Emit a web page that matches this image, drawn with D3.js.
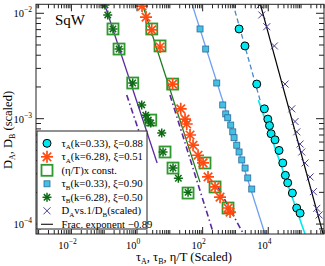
<!DOCTYPE html>
<html>
<head>
<meta charset="utf-8">
<script src="https://cdn.jsdelivr.net/npm/d3@7"></script>
<style>
body { margin: 0; background: #fff; }
svg text { font-family: "Liberation Serif", "Times New Roman", serif; fill: #000; }
</style>
</head>
<body>
<div id="main"></div>
<script>
// ---- data ----
var tauA033 = [[1290,7.1e-3],[1950,4.9e-3],[4460,2.13e-3],[7600,1.24e-3],[9700,9.9e-4],[10900,8.6e-4],[12200,7.2e-4],[16100,6.3e-4],[21300,5.0e-4],[27700,3.8e-4],[33200,2.9e-4],[39100,2.46e-4],[54300,1.97e-4],[73600,1.42e-4],[93400,1.27e-4]];
var tauA628 = [[1.42,1.17e-2],[1.88,9.2e-3],[2.81,6.95e-3],[5.02,4.79e-3],[12.2,2.13e-3],[21.5,1.24e-3],[29.1,9.9e-4],[32.7,8.9e-4],[41.3,7.0e-4],[51,5.6e-4],[72.4,4.5e-4],[103,3.8e-4],[146,2.8e-4],[239,2.25e-4],[339,1.8e-4],[594,1.42e-4],[684,1.3e-4]];
var etaT1 = [[0.185,7.1e-3],[0.283,4.58e-3],[0.74,2.18e-3],[2.62,9.7e-4],[7.14,4.83e-4],[12.5,3.4e-4],[35.9,1.97e-4]];
var etaT2 = [[2.81,7.1e-3],[5.02,4.9e-3],[12.2,2.13e-3],[118,3.8e-4],[239,2.25e-4],[594,1.42e-4]];
var tauB033 = [[83.3,7.1e-3],[124,4.58e-3],[269,2.18e-3],[410,1.35e-3],[506,1.11e-3],[582,1.02e-3],[719,8.7e-4],[828,7.5e-4],[906,6.6e-4],[1096,5.6e-4],[1288,4.83e-4],[1556,4.06e-4],[1963,3.4e-4],[2372,2.74e-4],[3140,2.15e-4]];
var tauB628 = [[0.1057,1.2e-2],[0.128,9.64e-3],[0.185,7.1e-3],[0.283,4.58e-3],[0.74,2.18e-3],[1.39,1.35e-3],[1.84,1.08e-3],[2.21,9.7e-4],[2.62,9.1e-4],[5.66,7.3e-4],[6.2,4.83e-4],[12.5,3.4e-4],[18.2,2.72e-4],[35.9,2.0e-4]];
var dAvsDB = [[5623,1.2e-2],[6340,9.64e-3],[9000,7.46e-3],[15350,4.9e-3],[32500,2.13e-3],[52000,1.24e-3],[65600,9.4e-4],[74000,7.5e-4],[93300,5.75e-4],[105000,4.83e-4],[132000,3.8e-4],[188000,2.8e-4],[237000,2.03e-4],[301000,1.41e-4],[355000,1.22e-4]];

// fit lines, end points in data units
var fitLines = [
  {pts: [[0.1,1.25e-2],[4.1,3.8e-4]], color: "#5a2aa0", dash: null, w: 1.3},
  {pts: [[1.42,1.25e-2],[83,2.5e-4]], color: "#1f7a1f", dash: null, w: 1.3},
  {pts: [[46.5,1.25e-2],[7950,8.05e-5]], color: "#6f9ff0", dash: null, w: 1.3},
  {pts: [[828,1.25e-2],[5620,1.5e-3]], color: "#4a88c8", dash: "5,3", w: 1.3},
  {pts: [[4990,1.5e-3],[132000,8.05e-5]], color: "#00e8f0", dash: null, w: 1.6},
  {pts: [[5620,1.25e-2],[470000,8.05e-5]], color: "#000", dash: null, w: 1.2},
  {pts: [[0.485,1.68e-3],[1.25,7.0e-4]], color: "#5a2aa0", dash: "6,3,1.5,3", w: 1.6},
  {pts: [[10.1,1.68e-3],[207,8.4e-5]], color: "#5a2aa0", dash: "6,3,1.5,3", w: 1.6},
  {pts: [[295,2.24e-4],[1700,8.2e-5]], color: "#5a2aa0", dash: "6,3,1.5,3", w: 1.6}
];

var xMajor = [1e-2, 1, 1e2, 1e4];
var xMajorExp = ["-2", "0", "2", "4"];
var yMajor = [1e-2, 1e-3, 1e-4];
var yMajorExp = ["-2", "-3", "-4"];

var legendLabels = [
  ["τ", "A", "(k=0.33), ξ=0.88"],
  ["τ", "A", "(k=6.28), ξ=0.51"],
  ["(η/T)x const.", "", ""],
  ["τ", "B", "(k=0.33), ξ=0.90"],
  ["τ", "B", "(k=6.28), ξ=0.50"],
  ["D", "A", "vs.1/D", "B", "(scaled)"],
  ["Frac. exponent −0.89", "", ""]
];

// ---- layout ----
var W = 325, H = 266;
var margin = {top: 4.3, right: 1, bottom: 32, left: 36};
var w = W - margin.left - margin.right, h = H - margin.top - margin.bottom;

var svg = d3.select("#main").append("svg").attr("width", W).attr("height", H);
var g = svg.append("g").attr("transform", "translate(" + margin.left + "," + margin.top + ")");

var x = d3.scaleLog().domain([8.33e-4, 5.0e5]).range([0, w]);
var y = d3.scaleLog().domain([8.05e-5, 1.217e-2]).range([h, 0]);

g.append("clipPath").attr("id", "clip").append("rect").attr("width", w).attr("height", h);
var plot = g.append("g").attr("clip-path", "url(#clip)");

// minor tick values
function logTicks(lo, hi) {
  var out = [];
  for (var e = Math.floor(Math.log10(lo)); e <= Math.ceil(Math.log10(hi)); e++)
    for (var k = 1; k < 10; k++) {
      var v = k * Math.pow(10, e);
      if (v >= lo && v <= hi) out.push(v);
    }
  return out;
}
var xAll = logTicks(8.33e-4, 5e5), yAll = logTicks(8.05e-5, 1.217e-2);
function isMajorX(v) { return xMajor.some(function(m){ return Math.abs(v/m - 1) < 1e-6; }); }
function isMajorY(v) { return yMajor.some(function(m){ return Math.abs(v/m - 1) < 1e-6; }); }

var axes = g.append("g").attr("stroke", "#222").attr("stroke-width", 1);
xAll.forEach(function(v) {
  var L = isMajorX(v) ? 7 : 4;
  axes.append("line").attr("x1", x(v)).attr("x2", x(v)).attr("y1", h).attr("y2", h - L);
  axes.append("line").attr("x1", x(v)).attr("x2", x(v)).attr("y1", 0).attr("y2", L);
});
yAll.forEach(function(v) {
  var L = isMajorY(v) ? 8 : 5;
  axes.append("line").attr("y1", y(v)).attr("y2", y(v)).attr("x1", 0).attr("x2", L);
  axes.append("line").attr("y1", y(v)).attr("y2", y(v)).attr("x1", w).attr("x2", w - L);
});

// fit lines
var line = d3.line().x(function(d){ return x(d[0]); }).y(function(d){ return y(d[1]); });
fitLines.forEach(function(f) {
  plot.append("path").attr("d", line(f.pts)).attr("fill", "none")
    .attr("stroke", f.color).attr("stroke-width", f.w)
    .attr("stroke-dasharray", f.dash);
});

// symbol painters
function asterisk(sel, r, color, sw) {
  [0, 45, 90, 135].forEach(function(a) {
    var dx = r * Math.cos(a * Math.PI / 180), dy = r * Math.sin(a * Math.PI / 180);
    sel.append("line").attr("x1", -dx).attr("y1", -dy).attr("x2", dx).attr("y2", dy)
      .attr("stroke", color).attr("stroke-width", sw);
  });
}
var painters = [
  function(s) { s.append("circle").attr("r", 4).attr("fill", "#00e8f0").attr("stroke", "#000").attr("stroke-width", 1); },
  function(s) { asterisk(s, 6, "#ff4a10", 1.7); },
  function(s) { s.append("rect").attr("x", -5.5).attr("y", -5.5).attr("width", 11).attr("height", 11)
                  .attr("fill", "none").attr("stroke", "#2e9a2e").attr("stroke-width", 1.8); },
  function(s) { s.append("rect").attr("x", -3).attr("y", -3).attr("width", 6).attr("height", 6)
                  .attr("fill", "#44c0e0").attr("stroke", "#2a6aa0").attr("stroke-width", 0.8); },
  function(s) { asterisk(s, 4.5, "#0b6a12", 1.5); },
  function(s) { s.append("path").attr("d", "M-3.5,-3.5L3.5,3.5M-3.5,3.5L3.5,-3.5")
                  .attr("stroke", "#4a3d8f").attr("stroke-width", 1); }
];

function drawSeries(data, painter) {
  plot.selectAll(null).data(data).enter().append("g")
    .attr("transform", function(d){ return "translate(" + x(d[0]) + "," + y(d[1]) + ")"; })
    .each(function() { painter(d3.select(this)); });
}
drawSeries(etaT1, painters[2]);
drawSeries(etaT2, painters[2]);
drawSeries(tauB628, painters[4]);
drawSeries(tauA628, painters[1]);
drawSeries(tauB033, painters[3]);
drawSeries(tauA033, painters[0]);
drawSeries(dAvsDB, painters[5]);

// frame
g.append("rect").attr("width", w).attr("height", h).attr("fill", "none").attr("stroke", "#222").attr("stroke-width", 1);

// tick labels
function powLabel(sel, exp) {
  sel.append("tspan").text("10");
  sel.append("tspan").attr("dy", -5).attr("font-size", 7.5).text(exp);
}
xMajor.forEach(function(v, i) {
  var t = g.append("text").attr("x", x(v) - 4).attr("y", h + 15).attr("font-size", 10.5).attr("text-anchor", "middle");
  powLabel(t, xMajorExp[i].replace("-", "\u2212"));
});
yMajor.forEach(function(v, i) {
  var t = g.append("text").attr("x", -4).attr("y", y(v) + 4).attr("font-size", 10.5).attr("text-anchor", "end");
  powLabel(t, yMajorExp[i].replace("-", "\u2212"));
});

// axis titles
var xt = g.append("text").attr("x", w / 2 + 4).attr("y", h + 27).attr("font-size", 12.5).attr("text-anchor", "middle");
xt.append("tspan").text("τ");
xt.append("tspan").attr("dy", 3).attr("font-size", 8).text("A");
xt.append("tspan").attr("dy", -3).text(", τ");
xt.append("tspan").attr("dy", 3).attr("font-size", 8).text("B");
xt.append("tspan").attr("dy", -3).text(", η/T (Scaled)");

var yt = svg.append("text").attr("transform", "translate(12,130) rotate(-90)").attr("font-size", 12.5).attr("text-anchor", "middle");
yt.append("tspan").text("D");
yt.append("tspan").attr("dy", 3).attr("font-size", 8).text("A");
yt.append("tspan").attr("dy", -3).text(", D");
yt.append("tspan").attr("dy", 3).attr("font-size", 8).text("B");
yt.append("tspan").attr("dy", -3).text(" (scaled)");

g.append("text").attr("x", 19).attr("y", 21).attr("font-size", 15).text("SqW");

// legend
var lg = svg.append("g").attr("transform", "translate(37,131)");
lg.append("rect").attr("width", 110).attr("height", 98).attr("fill", "#fff").attr("stroke", "#222").attr("stroke-width", 1);
legendLabels.forEach(function(lab, i) {
  var cy = 12.3 + i * 13.5;
  var s = lg.append("g").attr("transform", "translate(10," + cy + ")");
  if (i < 6) painters[i](s);
  else s.append("line").attr("x1", -6).attr("x2", 6).attr("stroke", "#222").attr("stroke-width", 1.2);
  var t = lg.append("text").attr("x", 24.5).attr("y", cy + 3.5).attr("font-size", 10.7);
  t.append("tspan").text(lab[0]);
  if (lab[1]) {
    t.append("tspan").attr("dy", 2.5).attr("font-size", 7).text(lab[1]);
    t.append("tspan").attr("dy", -2.5).text(lab[2]);
    if (lab[3]) {
      t.append("tspan").attr("dy", 2.5).attr("font-size", 7).text(lab[3]);
      t.append("tspan").attr("dy", -2.5).text(lab[4]);
    }
  }
});
</script>
</body>
</html>
